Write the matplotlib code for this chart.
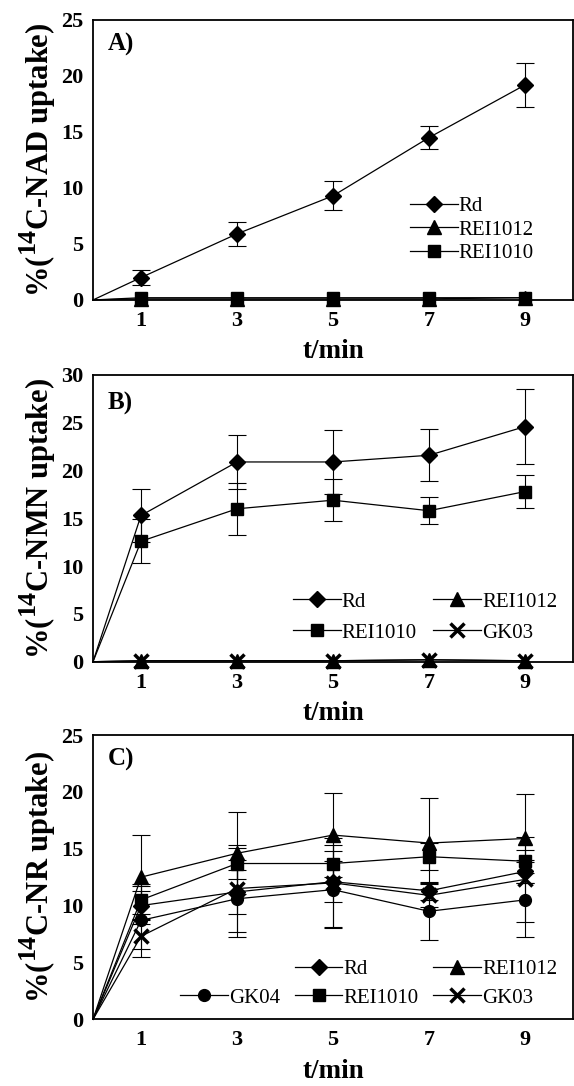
import matplotlib
matplotlib.use("Agg")
import matplotlib.pyplot as plt
from matplotlib.lines import Line2D
import matplotlib._mathtext as mt

plt.rcParams["font.family"] = "Liberation Serif"
plt.rcParams["mathtext.fontset"] = "custom"
plt.rcParams["mathtext.rm"] = "Liberation Serif:bold"
plt.rcParams["mathtext.bf"] = "Liberation Serif:bold"
mt.SHRINK_FACTOR = 0.85  # bigger superscript "14" like the original

# time points (0 = start, no marker drawn there)
t = [0, 1, 3, 5, 7, 9]

# A) 14C-NAD uptake
nad_rd = [0, 2.0, 5.9, 9.3, 14.5, 19.2]
nad_rd_err = [0, 0.7, 1.1, 1.3, 1.0, 2.0]
nad_rei1012 = [0, 0.1, 0.1, 0.1, 0.1, 0.2]
nad_rei1010 = [0, 0.2, 0.2, 0.2, 0.2, 0.2]

# B) 14C-NMN uptake
nmn_rd = [0, 15.3, 20.9, 20.9, 21.6, 24.6]
nmn_rd_err = [0, 2.8, 2.8, 3.3, 2.7, 3.9]
nmn_rei1010 = [0, 12.6, 16.0, 16.9, 15.8, 17.8]
nmn_rei1010_err = [0, 2.3, 2.7, 2.2, 1.4, 1.7]
nmn_rei1012 = [0, 0.1, 0.1, 0.1, 0.2, 0.1]
nmn_gk03 = [0, 0.1, 0.1, 0.1, 0.2, 0.1]

# C) 14C-NR uptake
nr_rd = [0, 10.0, 11.2, 12.1, 11.3, 13.0]
nr_rd_err = [0, 1.3, 1.9, 1.8, 0.8, 1.0]
nr_rei1012 = [0, 12.5, 14.6, 16.2, 15.5, 15.9]
nr_rei1012_err = [0, 3.7, 3.6, 3.7, 4.0, 3.9]
nr_rei1010 = [0, 10.5, 13.7, 13.7, 14.3, 13.9]
nr_rei1010_err = [0, 1.2, 1.4, 1.6, 1.2, 1.0]
nr_gk04 = [0, 8.7, 10.6, 11.4, 9.5, 10.5]
nr_gk04_err = [0, 3.2, 3.4, 3.4, 2.5, 3.3]
nr_gk03 = [0, 7.3, 11.5, 12.0, 10.9, 12.3]
nr_gk03_err = [0, 1.1, 3.8, 3.9, 1.0, 3.7]

xticks = [1, 3, 5, 7, 9]

styles = {
    "Rd": dict(marker="D", ms=8),
    "REI1012": dict(marker="^", ms=10.5),
    "REI1010": dict(marker="s", ms=8.5),
    "GK03": dict(marker="x", ms=9.5, mew=2.5),
    "GK04": dict(marker="o", ms=8.5),
}


def draw(ax, name, y, err=None):
    if err is not None:
        ax.errorbar(t, y, yerr=err, fmt="none", ecolor="black", elinewidth=0.8,
                    capsize=6.5, capthick=0.8, errorevery=(1, 1), clip_on=False)
    line, = ax.plot(t, y, color="black", lw=0.9, mfc="black", mec="black",
                    markevery=slice(1, None), clip_on=False, label=name,
                    **styles[name])
    return line


leg_kw = dict(loc="upper left", frameon=False, fontsize=15, handlelength=2.3,
              handletextpad=0.05, borderpad=0, borderaxespad=0)

fig = plt.figure(figsize=(5.74, 10.86), dpi=100)
left, width = 93 / 574, 480 / 574
ax_a = fig.add_axes([left, 0.7238, width, 0.2578])
ax_b = fig.add_axes([left, 0.3907, width, 0.2640])
ax_c = fig.add_axes([left, 0.0614, width, 0.2618])

# A
a1 = draw(ax_a, "Rd", nad_rd, nad_rd_err)
a2 = draw(ax_a, "REI1012", nad_rei1012)
a3 = draw(ax_a, "REI1010", nad_rei1010)
ax_a.set_ylim(0, 25)
ax_a.set_yticks(range(0, 26, 5))
ax_a.legend(handles=[a1, a2, a3], bbox_to_anchor=(0.66, 0.37),
            labelspacing=0.2, **leg_kw)

# B
b1 = draw(ax_b, "Rd", nmn_rd, nmn_rd_err)
b2 = draw(ax_b, "REI1010", nmn_rei1010, nmn_rei1010_err)
b3 = draw(ax_b, "REI1012", nmn_rei1012)
b4 = draw(ax_b, "GK03", nmn_gk03)
ax_b.set_ylim(0, 30)
ax_b.set_yticks(range(0, 31, 5))
ax_b.legend(handles=[b1, b2, b3, b4], ncol=2, bbox_to_anchor=(0.416, 0.243),
            labelspacing=0.55, columnspacing=0.8, **leg_kw)

# C
c1 = draw(ax_c, "Rd", nr_rd, nr_rd_err)
c2 = draw(ax_c, "REI1012", nr_rei1012, nr_rei1012_err)
c3 = draw(ax_c, "REI1010", nr_rei1010, nr_rei1010_err)
c4 = draw(ax_c, "GK04", nr_gk04, nr_gk04_err)
c5 = draw(ax_c, "GK03", nr_gk03, nr_gk03_err)
ax_c.set_ylim(0, 25)
ax_c.set_yticks(range(0, 26, 5))
blank = Line2D([], [], linestyle="none", marker="none", label=" ")
ax_c.legend(handles=[blank, c4, c1, c3, c2, c5], ncol=3,
            bbox_to_anchor=(0.181, 0.21), labelspacing=0.42,
            columnspacing=0.7, **leg_kw)

panels = [(ax_a, "A)", "NAD", 0.955), (ax_b, "B)", "NMN", 0.94), (ax_c, "C)", "NR", 0.955)]
for ax, tag, sub, ty in panels:
    ax.set_xlim(0, 10)
    ax.set_xticks(xticks)
    ax.tick_params(length=0, labelsize=16)
    ax.tick_params(axis="x", pad=8)
    ax.tick_params(axis="y", pad=7)
    for lab in ax.get_xticklabels() + ax.get_yticklabels():
        lab.set_fontweight("bold")
    for sp in ax.spines.values():
        sp.set_linewidth(1.3)
    ax.set_xlabel("t/min", fontsize=19.5, fontweight="bold", labelpad=6)
    ax.set_ylabel("%($^{\\mathbf{14}}$C-" + sub + " uptake)", fontsize=22,
                  fontweight="bold", labelpad=2)
    ax.text(0.03, ty, tag, transform=ax.transAxes, fontsize=18,
            fontweight="bold", va="top", ha="left")

fig.savefig("out.png", dpi=100)
